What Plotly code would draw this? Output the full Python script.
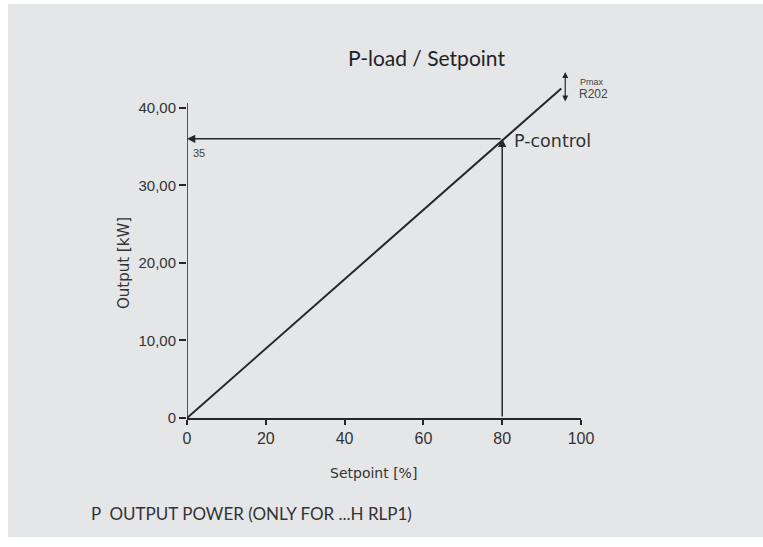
import plotly.graph_objects as go

# Data
setpoint_pct = [0, 95]          # diagonal P-load line
output_kw = [0, 42.5]
control_setpoint = 80
control_output = 36
control_label = "35"
x_ticks = [0, 20, 40, 60, 80, 100]
x_tick_labels = ["0", "20", "40", "60", "80", "100"]
y_ticks = [0, 10, 20, 30, 40]
y_tick_labels = ["0", "10,00", "20,00", "30,00", "40,00"]

W, H = 763, 547
ML, MR, MT, MB = 187, 182, 69, 129
pw, ph = W - ML - MR, H - MT - MB

def px(xp):
    return (xp - ML) / pw

def py(yp):
    return (H - MB - yp) / ph

ink = "#262626"
bg = "#e5e6e7"

fig = go.Figure()
fig.add_trace(go.Scatter(x=setpoint_pct, y=output_kw, mode="lines",
                         line=dict(color=ink, width=2), showlegend=False, hoverinfo="skip"))

shapes = [
    dict(type="rect", xref="paper", yref="paper", x0=px(8), x1=px(763), y0=py(537), y1=py(4),
         fillcolor=bg, line=dict(width=0), layer="below"),
    dict(type="line", xref="x", yref="y", x0=0, x1=0, y0=0, y1=40.6,
         line=dict(color=ink, width=1.5)),
]

annotations = [
    # horizontal arrow to y-axis
    dict(x=0, y=control_output, ax=control_setpoint, ay=control_output, xref="x", yref="y",
         axref="x", ayref="y", showarrow=True, arrowhead=2, arrowsize=1.1, arrowwidth=1.5,
         arrowcolor=ink, text=""),
    # vertical arrow from x-axis up to the line
    dict(x=control_setpoint, y=control_output, ax=control_setpoint, ay=0, xref="x", yref="y",
         axref="x", ayref="y", showarrow=True, arrowhead=2, arrowsize=1.1, arrowwidth=1.5,
         arrowcolor=ink, text=""),
    # Pmax double arrow
    dict(x=96, y=44.6, ax=96, ay=40.6, xref="x", yref="y", axref="x", ayref="y",
         showarrow=True, arrowhead=2, arrowside="end+start", arrowsize=1, arrowwidth=1.2,
         arrowcolor=ink, text=""),
    dict(x=px(578), y=py(82), xref="paper", yref="paper", text="Pmax", showarrow=False,
         xanchor="left", yanchor="middle", font=dict(size=9, color="#444", family="Liberation Sans")),
    dict(x=px(577), y=py(94), xref="paper", yref="paper", text="R202", showarrow=False,
         xanchor="left", yanchor="middle", font=dict(size=12, color="#444", family="Liberation Sans")),
    dict(x=px(512), y=py(141), xref="paper", yref="paper", text="P-control", showarrow=False,
         xanchor="left", yanchor="middle", font=dict(size=17.5, color="#333", family="DejaVu Sans")),
    dict(x=px(191), y=py(153), xref="paper", yref="paper", text=control_label, showarrow=False,
         xanchor="left", yanchor="middle", font=dict(size=11, color="#444", family="Liberation Sans")),
    dict(x=px(426), y=py(57), xref="paper", yref="paper", text="P-load / Setpoint", showarrow=False,
         xanchor="center", yanchor="middle", font=dict(size=21, color="#222", family="Lato")),
    dict(x=px(373), y=py(473), xref="paper", yref="paper", text="Setpoint [%]", showarrow=False,
         xanchor="center", yanchor="middle", font=dict(size=14, color="#333", family="DejaVu Sans")),
    dict(x=px(124), y=py(263), xref="paper", yref="paper", text="Output [kW]", showarrow=False,
         textangle=-90, xanchor="center", yanchor="middle",
         font=dict(size=15, color="#333", family="DejaVu Sans")),
    dict(x=px(89), y=py(513), xref="paper", yref="paper", text="P  OUTPUT POWER (ONLY FOR ...H RLP1)",
         showarrow=False, xanchor="left", yanchor="middle",
         font=dict(size=17, color="#333", family="Lato")),
]

fig.update_layout(
    width=W, height=H, margin=dict(l=ML, r=MR, t=MT, b=MB, pad=0),
    paper_bgcolor="white", plot_bgcolor="rgba(0,0,0,0)",
    shapes=shapes, annotations=annotations, showlegend=False,
    xaxis=dict(range=[0, 100], tickvals=x_ticks, ticktext=x_tick_labels, showgrid=False,
               zeroline=False, showline=True, linecolor=ink, linewidth=1.5,
               ticks="outside", ticklen=5, tickcolor=ink, tickwidth=1.5,
               tickfont=dict(size=16, color="#333", family="Liberation Sans")),
    yaxis=dict(range=[0, 45], tickvals=y_ticks, ticktext=y_tick_labels, showgrid=False,
               zeroline=False, showline=False, ticks="outside", ticklen=7, tickcolor=ink,
               tickwidth=1.5, tickfont=dict(size=15, color="#333", family="Liberation Sans")),
)

fig.write_html("out.html", config={"displayModeBar": False},
               post_script="document.body.style.margin='0';")
